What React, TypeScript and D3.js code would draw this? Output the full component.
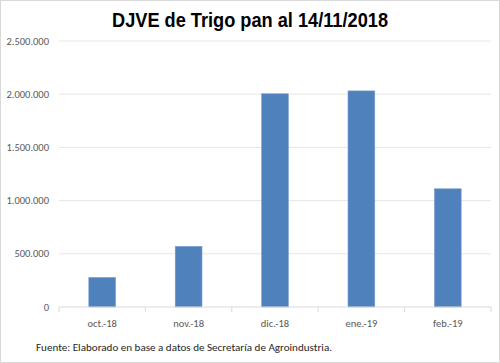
import React, { useEffect } from 'react';
import * as d3 from 'd3';

const months = ['oct.-18', 'nov.-18', 'dic.-18', 'ene.-19', 'feb.-19'];
const djve = [278000, 570000, 2004000, 2031000, 1111000];
const yTicks = [0, 500000, 1000000, 1500000, 2000000, 2500000];

const W = 500;
const H = 363;
const margin = { top: 41, right: 9, bottom: 56, left: 59 };
const labelFont = 'Carlito, Calibri, "Liberation Sans", sans-serif';

const fmt = (v: number) => d3.format(',')(v).replace(/,/g, '.');

export default function App() {
  useEffect(() => {
    document.body.style.margin = '0';
  }, []);

  const x = d3.scaleBand().domain(months).range([margin.left, W - margin.right]).paddingInner(0.69).paddingOuter(0.345);
  const y = d3.scaleLinear().domain([0, 2500000]).range([H - margin.bottom, margin.top]);
  const step = x.step();
  const base = y(0);

  return (
    <svg width={W} height={H} style={{ display: 'block' }}>
      <rect x={0.5} y={0.5} width={W - 1} height={H - 1} fill="#fff" stroke="#d9d9d9" />
      <text x={112} y={27} fontFamily='"Liberation Sans Narrow", "Arial Narrow", "Liberation Sans", sans-serif' fontWeight="bold" fontSize={21} fill="#000" textLength={276} lengthAdjust="spacingAndGlyphs">
        DJVE de Trigo pan al 14/11/2018
      </text>
      {yTicks.map((t) => (
        <g key={t}>
          {t > 0 && <line x1={margin.left} x2={W - margin.right} y1={y(t)} y2={y(t)} stroke="#e6e6e6" />}
          <text x={49} y={y(t)} dy="0.35em" textAnchor="end" fontFamily={labelFont} fontSize={10.5} fill="#595959">
            {fmt(t)}
          </text>
        </g>
      ))}
      {months.map((m, i) => (
        <rect key={m} x={x(m)} y={y(djve[i])} width={x.bandwidth()} height={base - y(djve[i])} fill="#4f81bd" stroke="#7ba0cf" strokeWidth={0.6} />
      ))}
      <line x1={margin.left} x2={W - margin.right} y1={base} y2={base} stroke="#d9d9d9" />
      {d3.range(months.length + 1).map((i) => {
        const tx = margin.left + i * step;
        return <line key={i} x1={tx} x2={tx} y1={base} y2={base + 5} stroke="#d9d9d9" />;
      })}
      {months.map((m) => (
        <text key={m} x={(x(m) as number) + x.bandwidth() / 2} y={327} textAnchor="middle" fontFamily={labelFont} fontSize={10.5} fill="#595959">
          {m}
        </text>
      ))}
      <text x={36} y={351} fontFamily={labelFont} fontSize={10.5} fill="#262626" textLength={296} lengthAdjust="spacingAndGlyphs">
        Fuente: Elaborado en base a datos de Secretaría de Agroindustria.
      </text>
    </svg>
  );
}
